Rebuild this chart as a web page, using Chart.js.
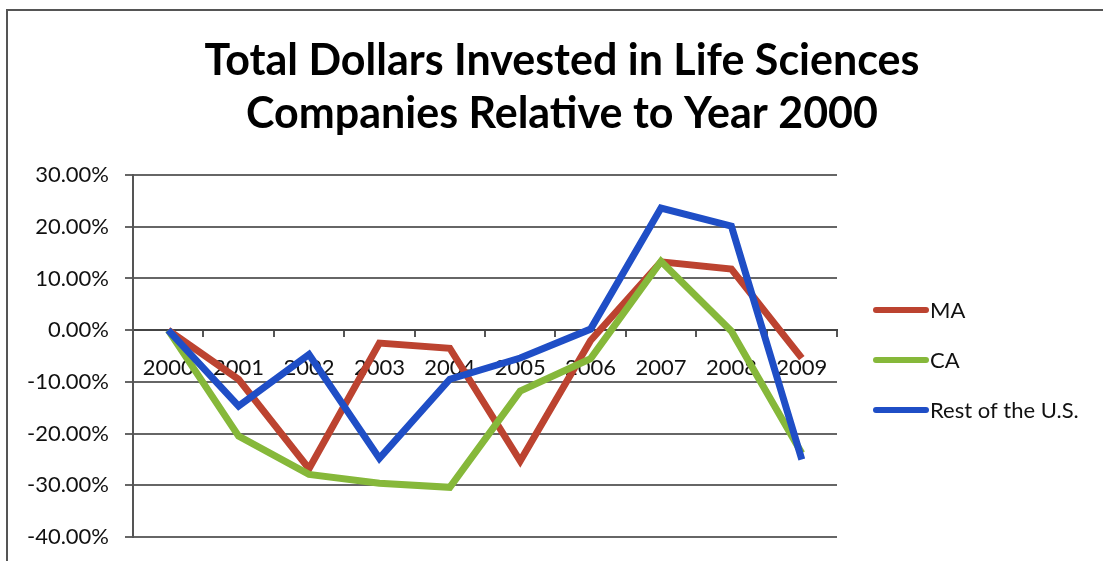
<!DOCTYPE html>
<html>
<head>
<meta charset="utf-8">
<title>Total Dollars Invested in Life Sciences</title>
<script src="https://cdn.jsdelivr.net/npm/chart.js@4.4.1/dist/chart.umd.min.js"></script>
<style>
  html, body { margin: 0; padding: 0; background: #fff; }
  #wrap { width: 1103px; height: 561px; position: relative; }
</style>
</head>
<body>
<div id="wrap"><canvas id="chart"></canvas></div>
<script>
// years on the x axis
const years = ["2000", "2001", "2002", "2003", "2004", "2005", "2006", "2007", "2008", "2009"];

// change vs. 2000, in percent
const maValues = [0, -9.5, -26.8, -2.5, -3.5, -25.3, -2, 13.2, 11.8, -5.4];
const caValues = [0, -20.5, -27.9, -29.6, -30.4, -11.8, -5.5, 13.3, -0.2, -23.8];
const restValues = [0, -14.7, -4.7, -24.8, -9.5, -5.4, 0.2, 23.6, 20.1, -25];

const yTicks = [-40, -30, -20, -10, 0, 10, 20, 30];

const titleLines = ["Total Dollars Invested in Life Sciences", "Companies Relative to Year 2000"];

const bodyFont = "Lato, 'Open Sans', sans-serif";

// frame around the whole chart, only top and left edges are visible
const framePlugin = {
  id: "frame",
  beforeDraw(chart) {
    const ctx = chart.ctx;
    ctx.save();
    ctx.strokeStyle = "#555";
    ctx.lineWidth = 2;
    ctx.beginPath();
    ctx.moveTo(7, chart.height);
    ctx.lineTo(7, 10);
    ctx.lineTo(chart.width, 10);
    ctx.stroke();
    ctx.restore();
  }
};

// two-line title, centred on the whole canvas rather than the plot
const titlePlugin = {
  id: "bigTitle",
  afterDraw(chart) {
    const ctx = chart.ctx;
    ctx.save();
    ctx.font = "bold 43px " + bodyFont;
    ctx.fillStyle = "#000";
    ctx.textAlign = "center";
    ctx.textBaseline = "middle";
    titleLines.forEach((line, i) => ctx.fillText(line, 562, 61 + i * 53));
    ctx.restore();
  }
};

// legend drawn as short thick lines to the right of the plot
const lineLegend = {
  id: "lineLegend",
  afterDraw(chart) {
    const ctx = chart.ctx;
    ctx.save();
    ctx.font = "22px " + bodyFont;
    ctx.textBaseline = "middle";
    chart.data.datasets.forEach((ds, i) => {
      const y = 310 + i * 50;
      ctx.strokeStyle = ds.borderColor;
      ctx.lineWidth = 6;
      ctx.lineCap = "round";
      ctx.beginPath();
      ctx.moveTo(876, y);
      ctx.lineTo(926, y);
      ctx.stroke();
      ctx.fillStyle = "#111";
      ctx.fillText(ds.label, 930, y + 1);
    });
    ctx.restore();
  }
};

new Chart(document.getElementById("chart"), {
  type: "line",
  data: {
    labels: years,
    datasets: [
      { label: "MA", data: maValues, borderColor: "#BC4330", order: 2 },
      { label: "CA", data: caValues, borderColor: "#86B83A", order: 1 },
      { label: "Rest of the U.S.", data: restValues, borderColor: "#1F4EC6", order: 0 }
    ]
  },
  options: {
    responsive: true,
    maintainAspectRatio: false,
    animation: false,
    elements: {
      line: { borderWidth: 7, tension: 0, borderJoinStyle: "miter", fill: false },
      point: { radius: 0, hoverRadius: 0 }
    },
    layout: { padding: { left: 0, right: 266, top: 175, bottom: 24 } },
    plugins: {
      legend: { display: false },
      tooltip: { enabled: false },
      title: { display: false }
    },
    scales: {
      x: {
        position: { y: 0 },
        offset: true,
        // the axis sits on the zero line, so it needs no room below the plot
        afterFit(scale) {
          scale.height = 0;
          scale.paddingTop = 0;
          scale.paddingBottom = 0;
        },
        grid: {
          offset: true,
          drawOnChartArea: false,
          drawTicks: true,
          tickLength: 6,
          color: "#555",
          lineWidth: 2
        },
        border: { display: true, color: "#444", width: 2 },
        ticks: {
          color: "#111",
          padding: 19,
          maxRotation: 0,
          autoSkip: false,
          font: { family: bodyFont, size: 22 }
        }
      },
      y: {
        min: -40,
        max: 30,
        afterBuildTicks(scale) {
          scale.ticks = yTicks.map(v => ({ value: v }));
        },
        afterFit(scale) {
          scale.width = 133;
          scale.paddingBottom = 0;
          scale.paddingTop = 0;
        },
        grid: {
          color: "#666",
          lineWidth: 2,
          tickLength: 8
        },
        border: { display: true, color: "#555", width: 2 },
        ticks: {
          color: "#111",
          padding: 16,
          font: { family: bodyFont, size: 22 },
          callback: v => v.toFixed(2) + "%"
        }
      }
    }
  },
  plugins: [framePlugin, titlePlugin, lineLegend]
});
</script>
</body>
</html>
